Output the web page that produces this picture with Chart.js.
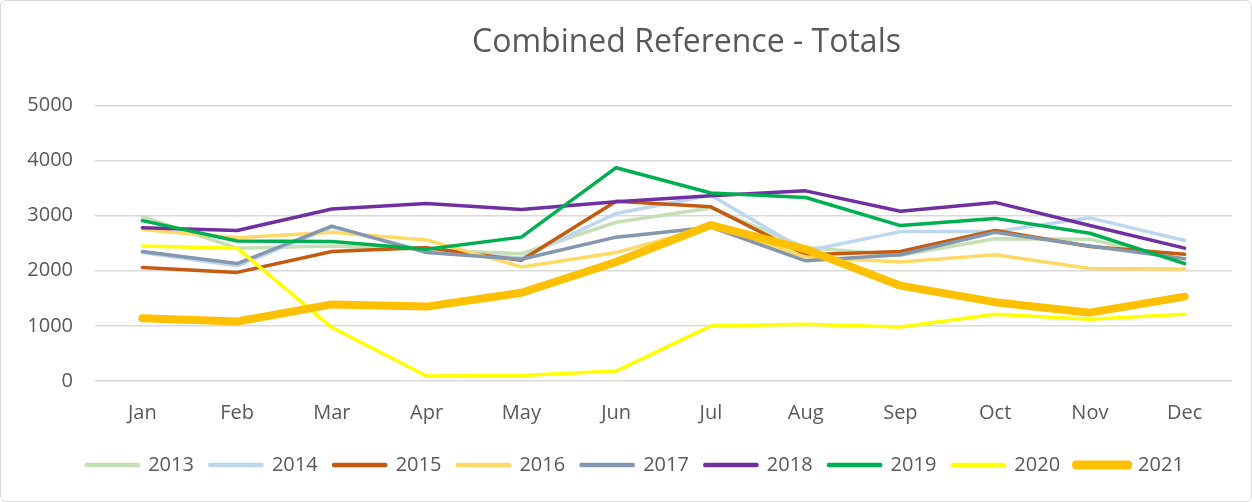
<!DOCTYPE html>
<html>
<head>
<meta charset="utf-8">
<script src="https://cdn.jsdelivr.net/npm/chart.js@4"></script>
<style>
  html, body { margin: 0; padding: 0; background: #fff; }
  .wrap {
    width: 1252px; height: 502px; box-sizing: border-box;
    border: 1px solid #d9d9d9; border-radius: 6px; position: relative;
  }
  canvas { display: block; }
</style>
</head>
<body>
<div class="wrap"><canvas id="chart" width="1250" height="500"></canvas></div>
<script>
const months = ['Jan', 'Feb', 'Mar', 'Apr', 'May', 'Jun', 'Jul', 'Aug', 'Sep', 'Oct', 'Nov', 'Dec'];
const yTicks = [0, 1000, 2000, 3000, 4000, 5000];

const y2013 = [2980, 2410, 2450, 2380, 2310, 2880, 3140, 2420, 2280, 2580, 2570, 2200];
const y2014 = [2330, 2090, 2790, 2350, 2230, 3040, 3370, 2360, 2710, 2710, 2960, 2550];
const y2015 = [2060, 1970, 2350, 2420, 2190, 3260, 3160, 2290, 2350, 2730, 2440, 2300];
const y2016 = [2750, 2600, 2700, 2560, 2070, 2330, 2800, 2250, 2160, 2290, 2040, 2030];
const y2017 = [2350, 2130, 2810, 2330, 2210, 2610, 2790, 2180, 2290, 2700, 2450, 2220];
const y2018 = [2780, 2730, 3120, 3220, 3110, 3250, 3360, 3450, 3080, 3240, 2820, 2410];
const y2019 = [2910, 2540, 2530, 2390, 2610, 3870, 3410, 3330, 2820, 2950, 2680, 2130];
const y2020 = [2450, 2410, 970, 90, 100, 180, 1000, 1030, 980, 1210, 1120, 1210];
const y2021 = [1140, 1080, 1390, 1350, 1600, 2160, 2830, 2390, 1730, 1430, 1240, 1530];

const seriesLabels = ['2013', '2014', '2015', '2016', '2017', '2018', '2019', '2020', '2021'];
const seriesValues = [y2013, y2014, y2015, y2016, y2017, y2018, y2019, y2020, y2021];
const seriesColors = ['#C5E0B4', '#BDD7EE', '#C55A11', '#FFD966', '#8497B0', '#7030A0', '#00B050', '#FFFF00', '#FFC000'];

const textColor = '#595959';
const fontFamily = '"Open Sans", sans-serif';

const datasets = seriesLabels.map((label, i) => ({
  label,
  data: seriesValues[i],
  borderColor: seriesColors[i],
  backgroundColor: seriesColors[i],
  borderWidth: label === '2021' ? 8 : 3.5,
  pointRadius: 0,
  pointHoverRadius: 0,
  tension: 0,
  borderCapStyle: 'round',
  borderJoinStyle: 'round',
  fill: false,
  // later years drawn on top, like the original
  order: seriesLabels.length - i,
}));

// Excel puts the title and legend a little right of centre
const nudgeBoxes = {
  id: 'nudgeBoxes',
  afterLayout(chart) {
    if (chart.titleBlock) { chart.titleBlock.left += 23; chart.titleBlock.right += 23; }
    if (chart.legend) { chart.legend.left += 17; chart.legend.right += 17; }
  },
};

new Chart(document.getElementById('chart'), {
  type: 'line',
  data: { labels: months, datasets },
  plugins: [nudgeBoxes],
  options: {
    responsive: false,
    animation: false,
    layout: { padding: { left: 3, right: 19, top: 0, bottom: 16 } },
    plugins: {
      title: {
        display: true,
        fullSize: false,
        text: 'Combined Reference - Totals',
        color: textColor,
        font: { family: fontFamily, size: 32, weight: 'normal' },
        padding: { top: 23, bottom: 43 },
      },
      legend: {
        position: 'bottom',
        labels: {
          color: textColor,
          font: { family: fontFamily, size: 20 },
          boxWidth: 52,
          boxHeight: 1,
          padding: 16,
          sort: (a, b) => a.datasetIndex - b.datasetIndex,
        },
      },
      tooltip: { enabled: false },
    },
    scales: {
      x: {
        offset: true,
        grid: { display: false },
        border: { display: false },
        ticks: { color: textColor, font: { family: fontFamily, size: 20 }, padding: 12, maxRotation: 0 },
        afterFit: scale => { scale.height += 2; },
      },
      y: {
        min: 0,
        max: 5000,
        afterBuildTicks: axis => { axis.ticks = yTicks.map(v => ({ value: v })); },
        afterFit: scale => { scale.width = 91; },
        grid: { color: '#d9d9d9', lineWidth: 1.5, drawTicks: false },
        border: { display: false },
        ticks: {
          color: textColor,
          font: { family: fontFamily, size: 20 },
          padding: 22,
          callback: v => String(v),
        },
      },
    },
  },
});
</script>
</body>
</html>
